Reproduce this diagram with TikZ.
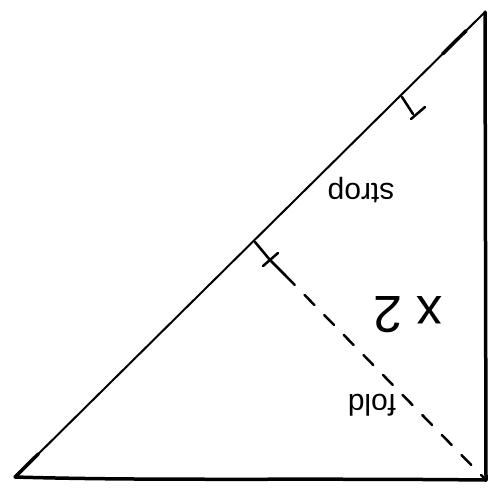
\documentclass[tikz,border=0pt]{standalone}
\usepackage{fontspec}
\setmainfont{Liberation Sans}
\usetikzlibrary{calc}
\begin{document}
\begin{tikzpicture}[x=1pt,y=-1pt,
  edge/.style={line width=2pt,line cap=round,line join=round},
  heavy/.style={line width=3.5pt,line cap=round,line join=round},
  tick/.style={line width=2.5pt,line cap=round},
  lbl/.style={rotate=180,inner sep=0pt}]
\useasboundingbox (0,0) rectangle (494,493);
\coordinate (A) at (15,477);
\coordinate (B) at (486,480);
\coordinate (C) at (485,12);
\coordinate (T1) at (255,242);
\coordinate (T2) at (402,97);
\coordinate (T1e) at (270,260);
\coordinate (T2e) at (413,114);
\coordinate (F1) at (285,275);
% hypotenuse
\draw[edge] (A) -- (C);
\draw[heavy] ($(A)!0.91!(C)$) -- ($(A)!0.96!(C)$);
\draw[heavy] (A) -- ($(A)!0.05!(C)$);
% legs
\draw[heavy] (A) .. controls (150,481) and (300,478) .. (B);
\draw[heavy] (C) -- (B);
% ticks
\draw[tick] (T1) -- (T1e);
\draw[tick] (263,266) -- (278,253);
\draw[tick] (T2) -- (T2e);
\draw[tick] (411,119) -- (425,107);
% fold
\draw[tick] (T1e) -- (F1);
\draw[tick,dash pattern=on 14pt off 14pt] (F1) -- (B);
% labels
\node[lbl,font=\fontsize{30}{30}\selectfont] (s) at (361,190) {strop};
\node[lbl,font=\fontsize{52}{52}\selectfont] (x) at (408,315) {x 2};
\node[lbl,font=\fontsize{30}{30}\selectfont] (f) at (372,405) {fold};
\end{tikzpicture}
\end{document}
